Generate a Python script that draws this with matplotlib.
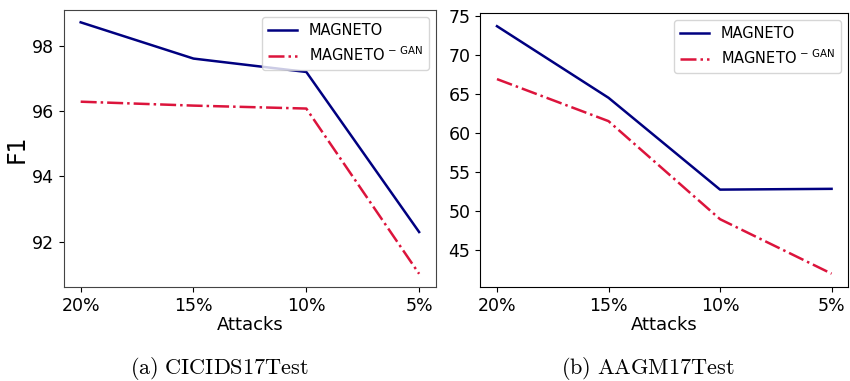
import matplotlib.pyplot as plt

attacks = ["20%", "15%", "10%", "5%"]

# (a) CICIDS17Test
cic_magneto = [98.72, 97.61, 97.2, 92.3]
cic_nogan = [96.29, 96.17, 96.08, 91.02]

# (b) AAGM17Test
aagm_magneto = [73.7, 64.5, 52.7, 52.8]
aagm_nogan = [66.9, 61.5, 48.9, 41.9]

labels = ["MAGNETO", r"MAGNETO$^{\,-\,\mathrm{GAN}}$"]

fig = plt.figure(figsize=(8.5, 3.81), dpi=100)
ax1 = fig.add_axes([0.075, 0.247, 0.438, 0.727])
ax2 = fig.add_axes([0.565, 0.247, 0.433, 0.719])

x = range(len(attacks))
for ax, m, g in [(ax1, cic_magneto, cic_nogan), (ax2, aagm_magneto, aagm_nogan)]:
    ax.plot(x, m, color="navy", linestyle="-", linewidth=1.8, label=labels[0])
    ax.plot(x, g, color="crimson", linestyle="-.", linewidth=1.8, label=labels[1])
    ax.set_xticks(list(x))
    ax.set_xticklabels(attacks)
    ax.tick_params(labelsize=12.5)
    ax.set_xlabel("Attacks", fontsize=13, labelpad=1)
    ax.legend(loc="upper right", fontsize=10.5, handlelength=2.0)

ax1.set_ylabel("F1", fontsize=17, labelpad=2)
ax1.set_yticks([92, 94, 96, 98])
ax1.set_ylim(90.62, 99.1)
ax2.set_yticks([45, 50, 55, 60, 65, 70, 75])
ax2.set_ylim(40.2, 75.4)
for s in ax1.spines.values():
    s.set_color("#444444")

fig.text(0.258, 0.034, r"$\mathrm{(a)\ CICIDS17Test}$", fontsize=16,
         ha="center", va="center", math_fontfamily="cm")
fig.text(0.762, 0.034, r"$\mathrm{(b)\ AAGM17Test}$", fontsize=16,
         ha="center", va="center", math_fontfamily="cm")

fig.savefig("out.png", dpi=100)
